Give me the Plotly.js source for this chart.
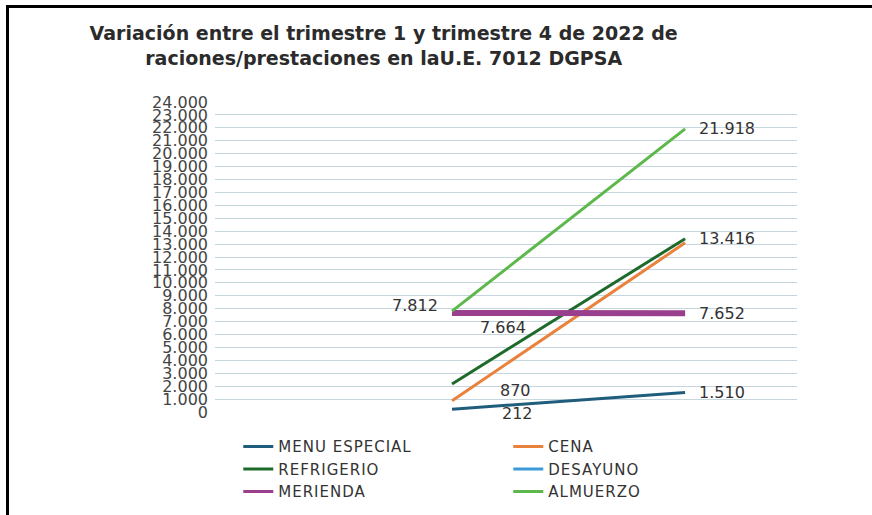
<!DOCTYPE html>
<html>
<head>
<meta charset="utf-8">
<script src="https://cdn.plot.ly/plotly-3.0.1.min.js"></script>
<style>
  html, body { margin: 0; padding: 0; background: #fff; }
  #wrap { position: relative; width: 872px; height: 515px; overflow: hidden; }
  #chart { width: 872px; height: 515px; }
  .bl { position: absolute; background: #000; pointer-events: none; }
  #chart .legendtext { letter-spacing: 1px; }
  #chart .legend .legendlines path { stroke-width: 3px !important; }
</style>
</head>
<body>
<div id="wrap">
  <div id="chart"></div>
  <div class="bl" style="left:6px; top:5px; width:866px; height:3px;"></div>
  <div class="bl" style="left:6px; top:5px; width:3px; height:510px;"></div>
</div>
<script>
// ---- data ----
const periods = ["Trimestre 1", "Trimestre 4"];
const seriesNames = ["MENU ESPECIAL", "CENA", "REFRIGERIO", "DESAYUNO", "MERIENDA", "ALMUERZO"];
const menuEspecial = [212, 1510];
const cena = [870, 13100];
const refrigerio = [2170, 13416];
const desayuno = [null, null];
const merienda = [7664, 7652];
const almuerzo = [7812, 21918];
const yTicks = [0,1000,2000,3000,4000,5000,6000,7000,8000,9000,10000,11000,12000,13000,14000,15000,16000,17000,18000,19000,20000,21000,22000,23000,24000];

// ---- styles ----
const FONT = "DejaVu Sans, Verdana, sans-serif";
const colors = ["#1f5d7c", "#e8823c", "#1d6a2b", "#3b9bd8", "#9a3f8e", "#5db84b"];
const widths = [3, 3, 3, 3, 6, 3];
const allValues = [menuEspecial, cena, refrigerio, desayuno, merienda, almuerzo];

const traces = allValues.map((vals, i) => ({
  type: "scatter",
  mode: "lines",
  x: periods,
  y: vals,
  name: seriesNames[i],
  line: { color: colors[i], width: widths[i] },
  showlegend: true,
  hoverinfo: "x+y+name"
}));

// data labels: [series values, point index, xshift, yshift, anchor]
const labelSpec = [
  [almuerzo, 0, -12, 6, "right"],
  [almuerzo, 1, 12, 0, "left"],
  [merienda, 0, 26, -14, "left"],
  [merienda, 1, 12, 0, "left"],
  [refrigerio, 1, 12, 0, "left"],
  [cena, 0, 46, 10, "left"],
  [menuEspecial, 0, 48, -4, "left"],
  [menuEspecial, 1, 12, 0, "left"]
];
function fmt(v) {
  return String(v).replace(/\B(?=(\d{3})+(?!\d))/g, ".");
}
const annotations = labelSpec.map(s => ({
  x: periods[s[1]], y: s[0][s[1]], xref: "x", yref: "y",
  text: fmt(s[0][s[1]]), showarrow: false,
  xanchor: s[4], yanchor: "middle",
  xshift: s[2], yshift: s[3],
  font: { family: FONT, size: 16, color: "#333" }
}));

const layout = {
  width: 872, height: 515,
  margin: { l: 215, r: 75, t: 102, b: 103, autoexpand: false },
  paper_bgcolor: "#ffffff",
  plot_bgcolor: "#ffffff",
  separators: ",.",
  title: {
    text: "<b>Variación entre el trimestre 1 y trimestre 4 de 2022 de<br>raciones/prestaciones en laU.E. 7012 DGPSA</b>",
    x: 0.44, xref: "container", xanchor: "center",
    y: 0.922, yref: "container", yanchor: "top",
    font: { family: FONT, size: 19, color: "#2b2b2b" }
  },
  xaxis: {
    type: "category",
    range: [-1.017, 1.48],
    showticklabels: false,
    showgrid: false, zeroline: false, showline: false,
    fixedrange: true
  },
  yaxis: {
    range: [0, 24000],
    tickvals: yTicks,
    tickformat: ",d",
    showgrid: true, gridcolor: "#c6d6de", gridwidth: 1,
    zeroline: false, showline: false,
    ticks: "", ticklabelstandoff: 6,
    tickfont: { family: FONT, size: 16, color: "#444" },
    fixedrange: true
  },
  legend: {
    orientation: "h",
    x: 0.04, xanchor: "left",
    y: -0.059, yanchor: "top",
    entrywidth: 225, entrywidthmode: "pixels",
    font: { family: FONT, size: 15, color: "#333" },
    bgcolor: "rgba(0,0,0,0)"
  },
  annotations: annotations,
  showlegend: true
};

Plotly.newPlot("chart", traces, layout, { displayModeBar: false, staticPlot: true });
</script>
</body>
</html>
